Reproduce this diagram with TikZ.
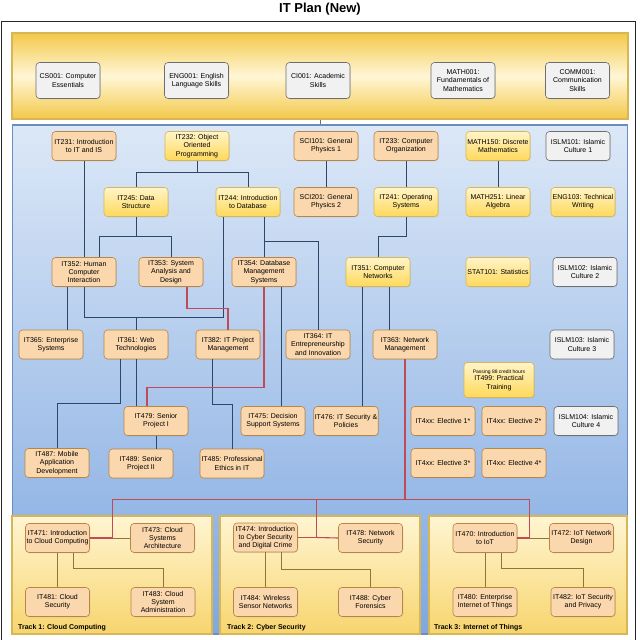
\documentclass[tikz,border=0pt]{standalone}
\usepackage{fontspec}
\setmainfont{Liberation Sans}
\usetikzlibrary{calc,shadows}
\definecolor{orfill}{HTML}{FAD7AC}
\definecolor{ordraw}{HTML}{B98546}
\definecolor{ytop}{HTML}{FFF4C8}
\definecolor{ybot}{HTML}{FFD95A}
\definecolor{ydraw}{HTML}{D6B656}
\definecolor{gfill}{HTML}{F1F1F1}
\definecolor{gdraw}{HTML}{6E6E6E}
\definecolor{navyl}{HTML}{2D4768}
\definecolor{redl}{HTML}{BE4B55}
\definecolor{olivel}{HTML}{8C7640}
\definecolor{bandedge}{HTML}{F3C94A}
\definecolor{bandmid}{HTML}{FFF6D6}
\definecolor{bluetop}{HTML}{DCE8F7}
\definecolor{bluebot}{HTML}{7FA8E0}
\definecolor{blueedge}{HTML}{6C8EBF}
\definecolor{trtop}{HTML}{FFF5D2}
\definecolor{trbot}{HTML}{F7D56E}
\begin{document}
\begin{tikzpicture}[x=1pt,y=-1pt,
  box/.style={rectangle, rounded corners=3.5pt, minimum width=64pt, minimum height=29pt,
    align=center, inner sep=1pt, font=\fontsize{7}{8.3}\selectfont, line width=0.6pt,
    drop shadow={opacity=0.18, shadow xshift=0.8pt, shadow yshift=-0.8pt}},
  obox/.style={box, fill=orfill, draw=ordraw},
  ybox/.style={box, top color=ytop, bottom color=ybot, draw=ydraw},
  gbox/.style={box, fill=gfill, draw=gdraw},
  ln/.style={draw=navyl, line width=0.9pt},
  rl/.style={draw=redl, line width=1.1pt},
  tl/.style={draw=olivel, line width=0.9pt},
  track/.style={rectangle, draw=ydraw, line width=1.4pt, top color=trtop, bottom color=trbot,
    minimum height=118pt, inner sep=0pt},
  tlabel/.style={anchor=west, font=\bfseries\fontsize{7}{8}\selectfont, inner sep=0pt}]
\useasboundingbox (0,0) rectangle (640,640);
\fill[white] (0,0) rectangle (640,640);
% title and frame
\node[font=\bfseries\fontsize{13}{15}\selectfont] (title) at (320,9) {IT Plan (New)};
\draw[line width=1pt, black!85] (1.5,21) rectangle (635.5,646);
% regions
\node[rectangle, draw=ydraw, line width=1.3pt, top color=bandedge, bottom color=bandedge,
  middle color=bandmid, minimum width=616pt, minimum height=86pt, inner sep=0pt] (band) at (320,76) {};
\node[rectangle, draw=blueedge, line width=1.3pt, top color=bluetop, bottom color=bluebot,
  minimum width=615pt, minimum height=509pt, inner sep=0pt] (blue) at (320,379.5) {};
\draw[draw=gdraw, line width=0.9pt] (band.south) -- (blue.north);
\node[track, minimum width=200pt] (tr1) at (112,575) {};
\node[track, minimum width=200pt] (tr2) at (320,575) {};
\node[track, minimum width=198pt] (tr3) at (528,575) {};
\node[tlabel] (tl1) at (18,628) {Track 1: Cloud Computing};
\node[tlabel] (tl2) at (227,628) {Track 2: Cyber Security};
\node[tlabel] (tl3) at (434,628) {Track 3: Internet of Things};
% top band
\node[gbox, minimum height=36pt] (CS001) at (68,80.5) {CS001: Computer\\Essentials};
\node[gbox, minimum height=36pt] (ENG001) at (196.5,80.5) {ENG001: English\\Language Skills};
\node[gbox, minimum height=36pt] (CI001) at (318,80.5) {CI001: Academic\\Skills};
\node[gbox, minimum height=36pt] (MATH001) at (463,80.5) {MATH001:\\Fundamentals of\\Mathematics};
\node[gbox, minimum height=36pt] (COMM001) at (577.5,80.5) {COMM001:\\Communication\\Skills};
% row 1
\node[obox] (IT231) at (84,146) {IT231: Introduction\\to IT and IS};
\node[ybox] (IT232) at (197,146) {IT232: Object\\Oriented\\Programming};
\node[obox] (SCI101) at (326,146) {SCI101: General\\Physics 1};
\node[obox] (IT233) at (406,146) {IT233: Computer\\Organization};
\node[ybox] (MATH150) at (498,146) {MATH150: Discrete\\Mathematics};
\node[gbox] (ISLM101) at (578,146) {ISLM101: Islamic\\Culture 1};
% row 2
\node[ybox] (IT245) at (136,202) {IT245: Data\\Structure};
\node[ybox] (IT244) at (248,202) {IT244: Introduction\\to Database};
\node[obox] (SCI201) at (326,202) {SCI201: General\\Physics 2};
\node[ybox] (IT241) at (406,202) {IT241: Operating\\Systems};
\node[ybox] (MATH251) at (498,202) {MATH251: Linear\\Algebra};
\node[ybox] (ENG103) at (583,202) {ENG103: Technical\\Writing};
% row 3
\node[obox] (IT352) at (84,272) {IT352: Human\\Computer\\Interaction};
\node[obox] (IT353) at (171,272) {IT353: System\\Analysis and\\Design};
\node[obox] (IT354) at (264,272) {IT354: Database\\Management\\Systems};
\node[ybox] (IT351) at (378,272) {IT351: Computer\\Networks};
\node[ybox] (STAT101) at (498,272) {STAT101: Statistics};
\node[gbox] (ISLM102) at (585,272) {ISLM102: Islamic\\Culture 2};
% row 4
\node[obox] (IT365) at (51,344.5) {IT365: Enterprise\\Systems};
\node[obox] (IT361) at (136,344.5) {IT361: Web\\Technologies};
\node[obox] (IT382) at (228,344.5) {IT382: IT Project\\Management};
\node[obox] (IT364) at (318,344.5) {IT364: IT\\Entrepreneurship\\and Innovation};
\node[obox] (IT363) at (405,344.5) {IT363: Network\\Management};
\node[gbox] (ISLM103) at (582,344.5) {ISLM103: Islamic\\Culture 3};
\node[ybox, minimum width=70pt, minimum height=35pt] (IT499) at (499,380)
  {{\fontsize{5}{6}\selectfont Passing 88 credit hours}\\[-0.5pt]IT499: Practical\\Training};
% row 5
\node[obox] (IT479) at (156,421) {IT479: Senior\\Project I};
\node[obox] (IT475) at (273,421) {IT475: Decision\\Support Systems};
\node[obox] (IT476) at (346,421) {IT476: IT Security \&\\Policies};
\node[obox] (E1) at (443,421) {IT4xx: Elective 1*};
\node[obox] (E2) at (514,421) {IT4xx: Elective 2*};
\node[gbox] (ISLM104) at (586,421) {ISLM104: Islamic\\Culture 4};
% row 6
\node[obox] (IT487) at (57,463) {IT487: Mobile\\Application\\Development};
\node[obox] (IT489) at (141,463.5) {IT489: Senior\\Project II};
\node[obox] (IT485) at (232,463.5) {IT485: Professional\\Ethics in IT};
\node[obox] (E3) at (443,463) {IT4xx: Elective 3*};
\node[obox] (E4) at (514,463) {IT4xx: Elective 4*};
% tracks
\node[obox] (IT471) at (57.5,538) {IT471: Introduction\\to Cloud Computing};
\node[obox] (IT473) at (162.5,538) {IT473: Cloud\\Systems\\Architecture};
\node[obox] (IT481) at (57.5,602) {IT481: Cloud\\Security};
\node[obox] (IT483) at (163,602) {IT483: Cloud\\System\\Administration};
\node[obox] (IT474) at (265.5,537.5) {IT474: Introduction\\to Cyber Security\\and Digital Crime};
\node[obox] (IT478) at (370.5,538) {IT478: Network\\Security};
\node[obox] (IT484) at (265.5,602) {IT484: Wireless\\Sensor Networks};
\node[obox] (IT488) at (370.5,602) {IT488: Cyber\\Forensics};
\node[obox] (IT470) at (485,538) {IT470: Introduction\\to IoT};
\node[obox] (IT472) at (581.5,538) {IT472: IoT Network\\Design};
\node[obox] (IT480) at (485,602) {IT480: Enterprise\\Internet of Things};
\node[obox] (IT482) at (583,602) {IT482: IoT Security\\and Privacy};
% navy connectors
\draw[ln] (IT232.south) -- ++(0,12) -| (IT245.north);
\draw[ln] (IT232.south) ++(0,12) -| (IT244.north);
\draw[ln] (IT245.south) -- ++(0,20) -| (IT353.north);
\coordinate (p352) at ($(IT352.north)+(15,0)$);
\draw[ln] (IT245.south) ++(0,20) -| (p352);
\draw[ln] (IT231.south) -- (IT352.north);
\coordinate (a1) at ($(IT352.south)+(-17,0)$);
\draw[ln] (a1) -- (a1 |- IT365.north);
\coordinate (a2) at ($(IT244.south)+(-25,0)$);
\draw[ln] (IT352.south) -- ++(0,31) -| (a2);
\draw[ln] (IT361.north) -- ++(0,-12.5);
\coordinate (a3) at (IT244.south -| IT354.north);
\draw[ln] (a3) -- (IT354.north);
\draw[ln] (a3) ++(0,25) -| (IT364.north);
\draw[ln] (IT233.south) -- (IT241.north);
\draw[ln] (IT241.south) -- ++(0,20) -| (IT351.north);
\draw[ln] (SCI101.south) -- (SCI201.north);
\draw[ln] (MATH150.south) -- (MATH251.north);
\coordinate (a4) at ($(IT351.south)+(-16,0)$);
\draw[ln] (a4) -- (a4 |- IT476.north);
\coordinate (a5) at ($(IT351.south)+(11,0)$);
\draw[ln] (a5) -- (a5 |- IT363.north);
\coordinate (a6) at ($(IT361.south)+(-16,0)$);
\draw[ln] (a6) -- ++(0,44) -| (IT487.north);
\draw[ln] (IT361.south) -- (IT361.south |- IT479.north);
\coordinate (a7) at ($(IT382.south)+(-16,0)$);
\draw[ln] (a7) -- ++(0,45) -| (IT485.north);
\draw[ln] (IT479.south) -- (IT479.south |- IT489.north);
\coordinate (a8) at ($(IT354.south)+(17,0)$);
\draw[ln] (a8) -- (a8 |- IT475.north);
% red connectors
\coordinate (r1) at ($(IT353.south)+(16,0)$);
\draw[rl] (r1) -- ++(0,22) -| (IT382.north);
\coordinate (r2) at ($(IT479.north)+(-9,0)$);
\draw[rl] (IT354.south) -- ++(0,101) -| (r2);
\draw[rl] (IT363.south) -- ++(0,140) coordinate (bus);
\draw[tl] (IT471.east) ++(23,0) -- (IT473.west);
\draw[rl] (IT474.east) ++(19,0) -- (IT478.west);
\draw[tl] (IT470.east) ++(12,0) -- (IT472.west);
\draw[rl] (IT471.east) -- ++(23,0) |- (bus);
\draw[rl] (IT474.east) -- ++(19,0) |- (bus);
\draw[rl] (IT470.east) -- ++(12,0) |- (bus);
% track connectors
\draw[tl] (IT471.south) -- (IT481.north);
\coordinate (t1) at ($(IT471.south)+(16,0)$);
\draw[tl] (t1) -- ++(0,16) -| (IT483.north);
\draw[tl] (IT474.south) -- (IT484.north);
\coordinate (t2) at ($(IT474.south)+(16,0)$);
\draw[tl] (t2) -- ++(0,17) -| (IT488.north);
\draw[tl] (IT470.south) -- (IT480.north);
\coordinate (t3) at ($(IT470.south)+(16,0)$);
\draw[tl] (t3) -- ++(0,16) -| (IT482.north);
\end{tikzpicture}
\end{document}
